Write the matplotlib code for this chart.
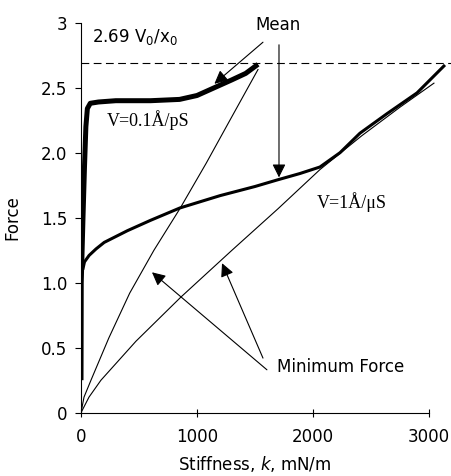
import matplotlib.pyplot as plt
import numpy as np

# V=0.1 A/pS (thick)
k_fast = [0, 2, 8, 17, 30, 42, 55, 80, 150, 300, 600, 850, 1000, 1100, 1200, 1300, 1420, 1526]
f_fast = [0.25, 1.0, 1.2, 1.5, 1.89, 2.2, 2.34, 2.38, 2.39, 2.40, 2.40, 2.41, 2.44, 2.48, 2.52, 2.56, 2.61, 2.68]

# V=1 A/uS (medium)
k_slow = [15, 30, 70, 130, 200, 400, 600, 853, 1200, 1500, 1690, 1888, 2060, 2233, 2405, 2638, 2897, 3138]
f_slow = [1.10, 1.16, 1.21, 1.26, 1.31, 1.40, 1.48, 1.575, 1.67, 1.74, 1.79, 1.84, 1.89, 2.0, 2.15, 2.30, 2.46, 2.675]

# minimum force curves (thin)
k_min1 = [0, 26, 86, 240, 420, 629, 853, 1080, 1284, 1526]
f_min1 = [0, 0.12, 0.25, 0.575, 0.92, 1.25, 1.57, 1.92, 2.25, 2.64]
k_min2 = [0, 69, 172, 474, 862, 1302, 1700, 2060, 2420, 2750, 3043]
f_min2 = [0, 0.12, 0.25, 0.55, 0.89, 1.25, 1.57, 1.87, 2.13, 2.35, 2.535]

f_limit = 2.69
yticks = [0, 0.5, 1.0, 1.5, 2.0, 2.5, 3]
ytick_labels = ['0', '0.5', '1.0', '1.5', '2.0', '2.5', '3']
xticks = [0, 1000, 2000, 3000]

fig = plt.figure(figsize=(4.51, 4.76), dpi=100)
ax = fig.add_axes([81/451, 63.3/476, 370/451, 390/476])
xmax = 3190
ax.set_xlim(0, xmax)
ax.set_ylim(0, 3)

ax.plot(k_min1, f_min1, color='black', lw=0.8)
ax.plot(k_min2, f_min2, color='black', lw=0.8)
ax.plot(k_slow, f_slow, color='black', lw=2.2, solid_capstyle='butt')
ax.plot(k_fast, f_fast, color='black', lw=3.6, solid_capstyle='butt')
ax.axhline(f_limit, color='black', lw=0.8, dashes=(7, 4))

for s in ['top', 'right']:
    ax.spines[s].set_visible(False)
ax.spines['bottom'].set_bounds(0, 3000)
ax.spines['left'].set_bounds(0, 3)
ax.spines['left'].set_linewidth(0.8)
ax.spines['bottom'].set_linewidth(0.8)

ax.set_yticks(yticks)
ax.set_yticklabels(ytick_labels)
ax.set_xticks(xticks)
ax.tick_params(axis='y', direction='out', length=4, labelsize=12, pad=6)
ax.tick_params(axis='x', direction='inout', length=6, labelsize=12, pad=8)

ax.set_ylabel('Force', fontsize=12, labelpad=14)
ax.set_xlabel('Stiffness, $k$, mN/m', fontsize=12, labelpad=10)
ax.xaxis.set_label_coords(1500/xmax, -0.105)

serif = 'Liberation Serif'
ax.text(95, 2.89, '2.69 V$_0$/x$_0$', fontsize=12, va='center', ha='left')
ax.text(224, 2.25, 'V=0.1Å/pS', family=serif, fontsize=13, va='center', ha='left')
ax.text(2034, 1.62, 'V=1Å/μS', family=serif, fontsize=13, va='center', ha='left')
ax.text(1700, 2.98, 'Mean', fontsize=12, va='center', ha='center')
ax.text(1690, 0.35, 'Minimum Force', fontsize=12, va='center', ha='left')

arrow = dict(arrowstyle='-|>', mutation_scale=20, lw=0.8, color='black',
             shrinkA=0, shrinkB=0)
ax.annotate('', xy=(1150, 2.53), xytext=(1569, 2.85), arrowprops=arrow, annotation_clip=False)
ax.annotate('', xy=(1707, 1.81), xytext=(1707, 2.83), arrowprops=arrow, annotation_clip=False)
ax.annotate('', xy=(612, 1.08), xytext=(1603, 0.33), arrowprops=arrow)
ax.annotate('', xy=(1216, 1.15), xytext=(1569, 0.42), arrowprops=arrow)

fig.savefig('out.png', dpi=100)
